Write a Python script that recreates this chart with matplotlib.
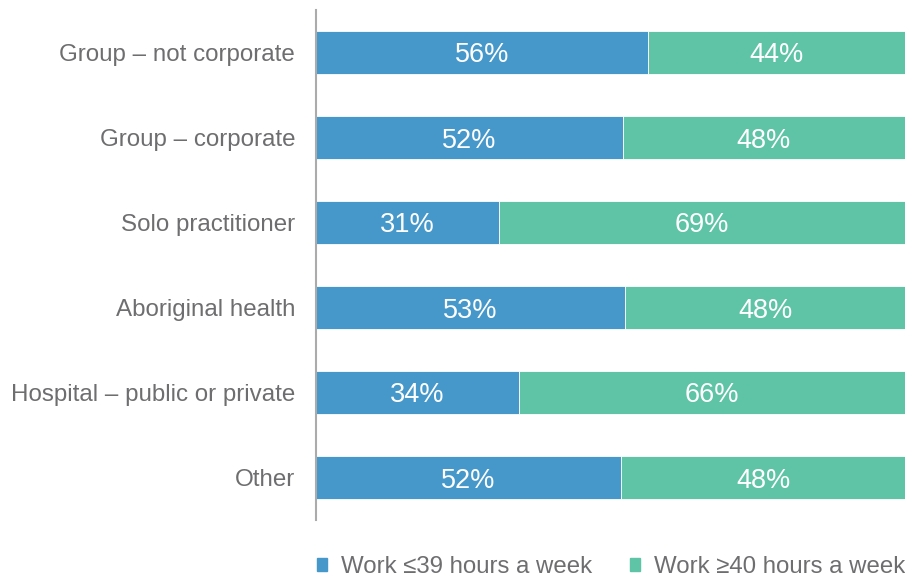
import matplotlib.pyplot as plt
from matplotlib.patches import Patch

categories = ['Group – not corporate', 'Group – corporate', 'Solo practitioner',
              'Aboriginal health', 'Hospital – public or private', 'Other']
under_40 = [56.4, 52.1, 31.1, 52.5, 34.5, 51.8]
over_40 = [43.6, 47.9, 68.9, 47.5, 65.5, 48.2]
under_labels = ['56%', '52%', '31%', '53%', '34%', '52%']
over_labels = ['44%', '48%', '69%', '48%', '66%', '48%']
series_names = ['Work ≤39 hours a week', 'Work ≥40 hours a week']

blue = '#4698CB'
green = '#5EC4A5'
grey = '#6e6e70'

plt.rcParams['font.family'] = ['Liberation Sans', 'DejaVu Sans']

fig = plt.figure(figsize=(9.05, 5.8), dpi=100)
ax = fig.add_axes([316 / 905, 60 / 580, 589 / 905, 510 / 580])

y = list(range(len(categories)))
ax.barh(y, under_40, height=0.51, color=blue, edgecolor='white', linewidth=0.6)
ax.barh(y, over_40, left=under_40, height=0.51, color=green, edgecolor='white', linewidth=0.6)

for i in y:
    ax.text(under_40[i] / 2, i, under_labels[i], ha='center', va='center_baseline',
            color='white', fontsize=19.5)
    ax.text(under_40[i] + over_40[i] / 2, i, over_labels[i], ha='center',
            va='center_baseline', color='white', fontsize=19.5)

ax.set_xlim(0, 100)
ax.set_ylim(5.5, -0.5)
ax.set_yticks(y)
ax.set_yticklabels(categories, fontsize=17.4, color=grey)
ax.tick_params(axis='y', length=0, pad=15)
ax.set_xticks([])
for side in ['top', 'right', 'bottom']:
    ax.spines[side].set_visible(False)
ax.spines['left'].set_color('#ababab')
ax.spines['left'].set_linewidth(1.5)

handles = [Patch(color=blue), Patch(color=green)]
fig.legend(handles, series_names, loc='center left', bbox_to_anchor=(317 / 905, 13 / 580),
           ncol=2, frameon=False, fontsize=17.3, labelcolor=grey,
           borderpad=0, borderaxespad=0,
           handlelength=0.42, handleheight=0.42, handletextpad=0.58, columnspacing=1.58)

fig.savefig('out.png', dpi=100)
